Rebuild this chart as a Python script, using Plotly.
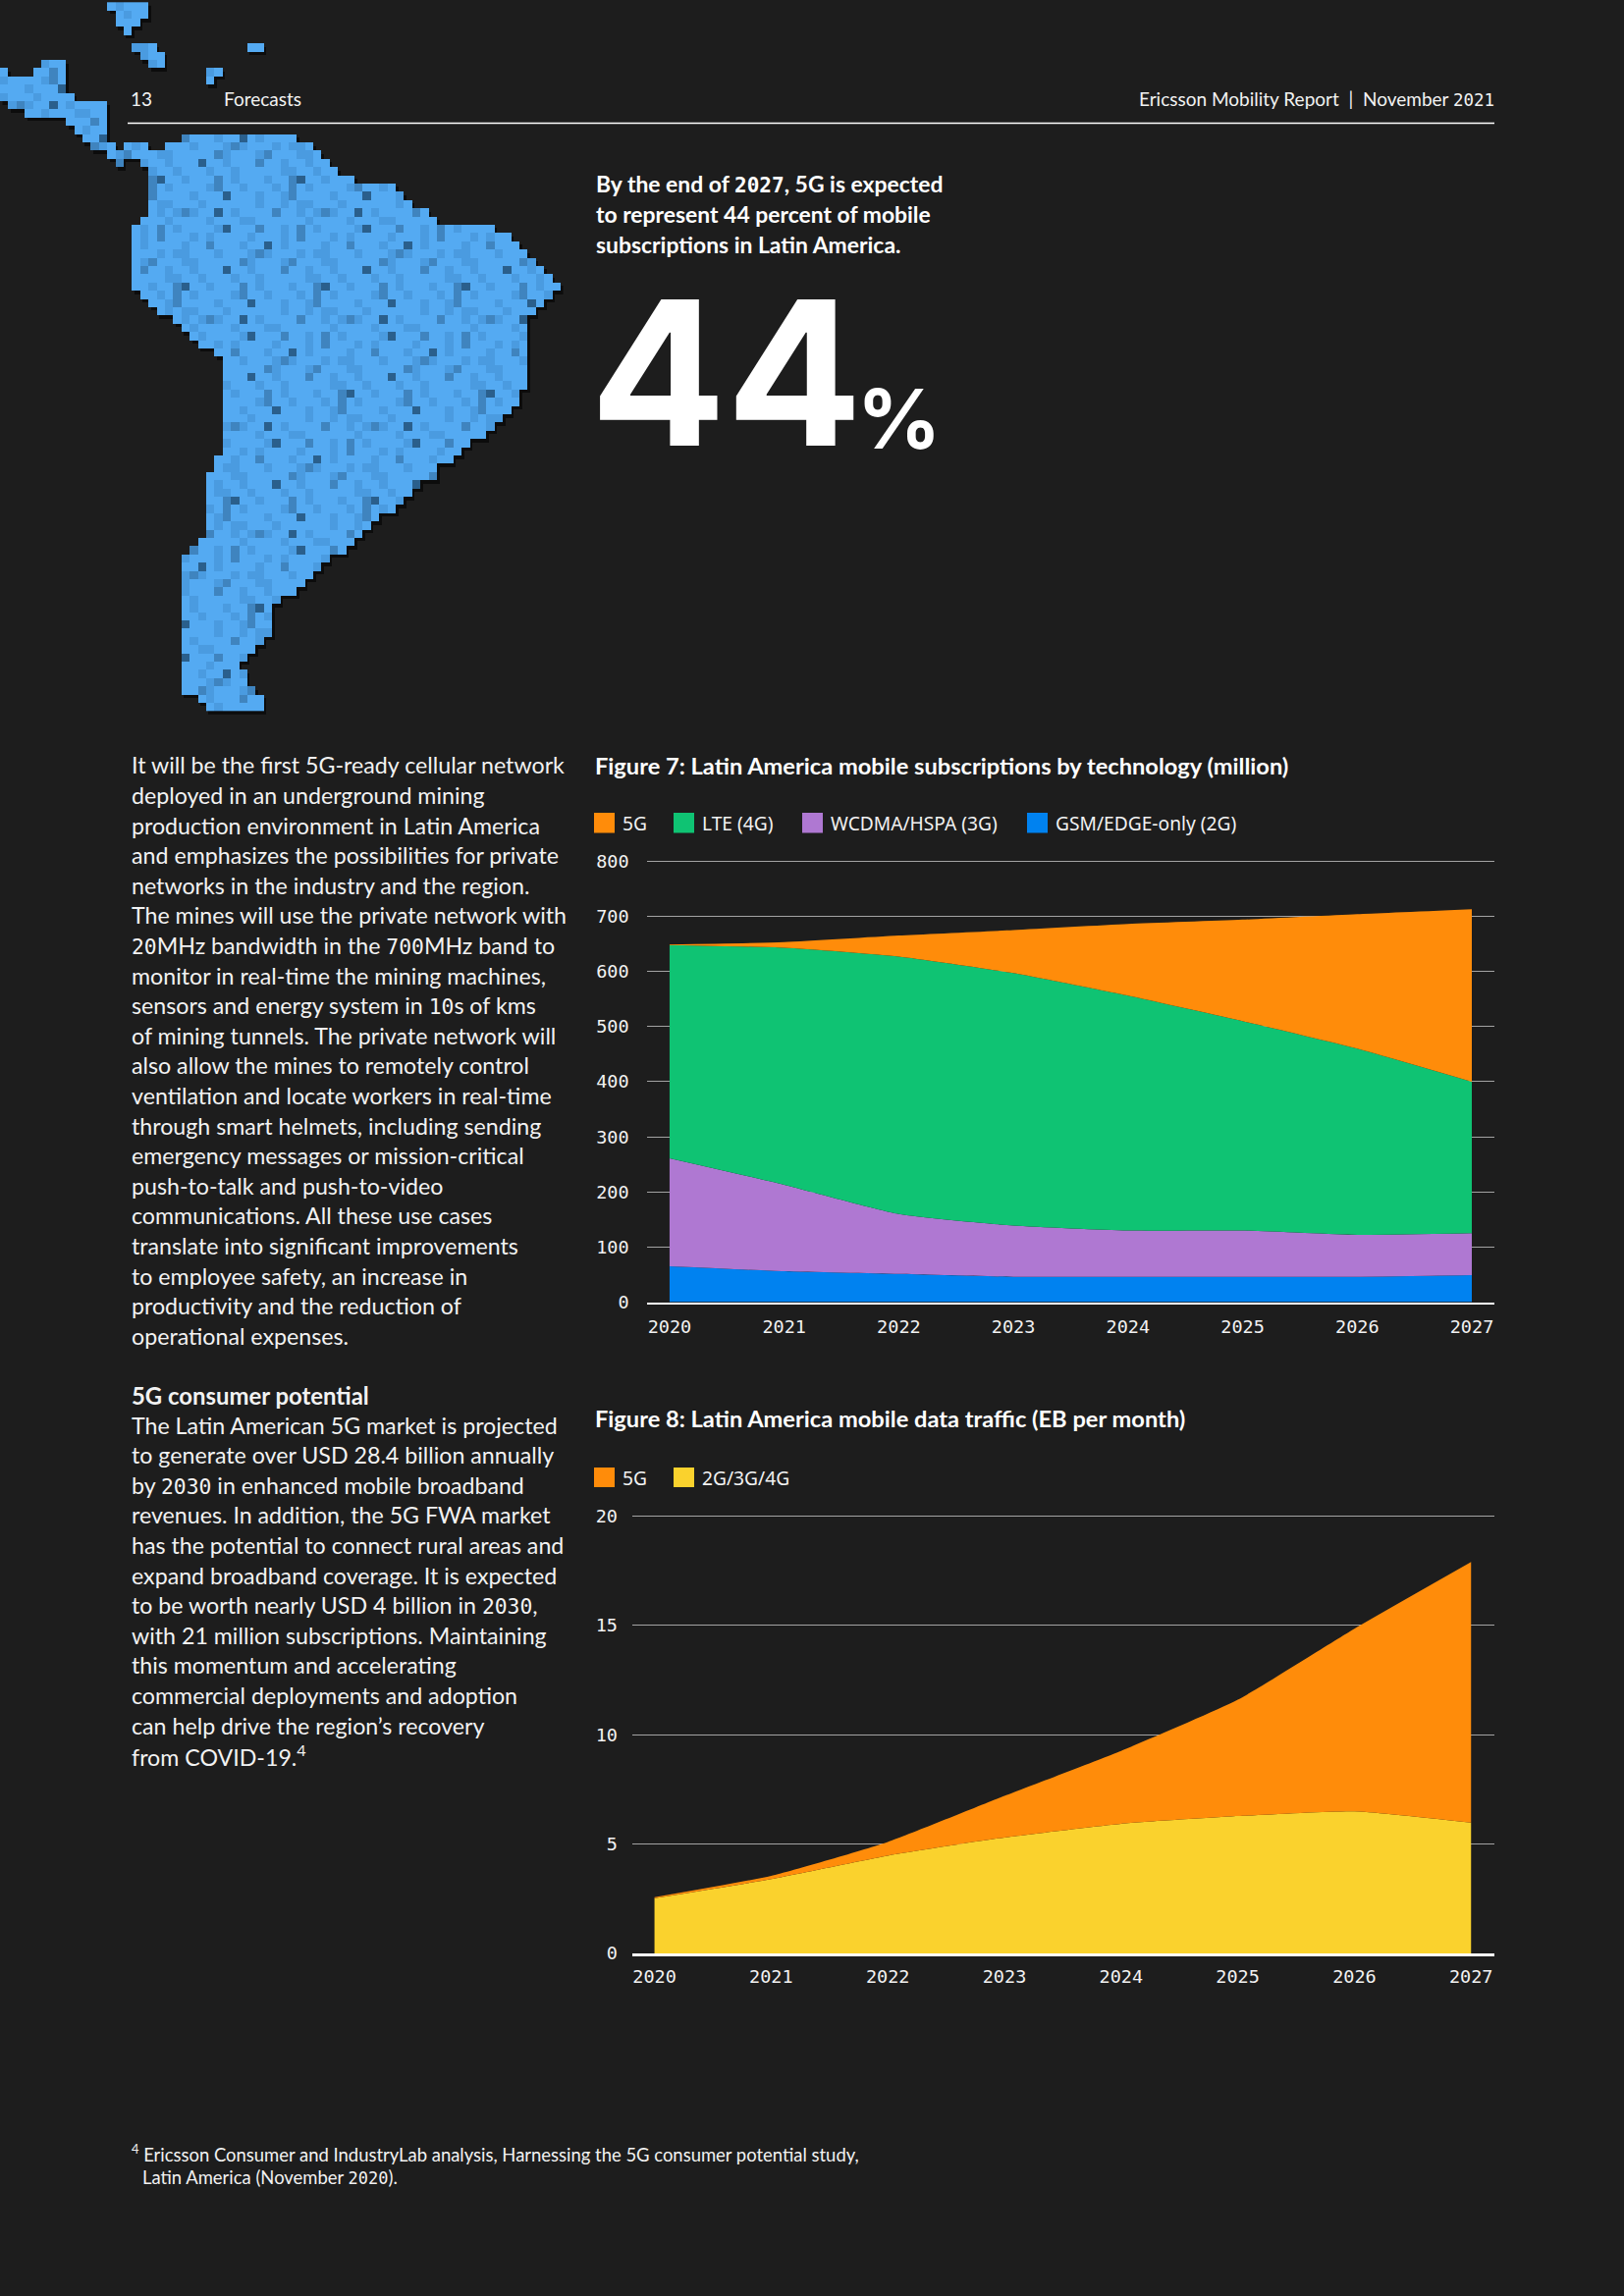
import re
import plotly.graph_objects as go

W, H = 1654, 2339
BG = "#1d1d1d"

# ---------- chart data ----------
YEARS = [2020, 2021, 2022, 2023, 2024, 2025, 2026, 2027]

FIG7_LABELS = ["5G", "LTE (4G)", "WCDMA/HSPA (3G)", "GSM/EDGE-only (2G)"]
FIG7_COLORS = ["#ff8c0a", "#0fc373", "#af78d2", "#0082f0"]
SUBS_5G = [1, 10, 38, 78, 130, 184, 244, 313]
SUBS_LTE = [387, 430, 467, 458, 426, 380, 338, 275]
SUBS_WCDMA = [196, 157, 109, 93, 84, 84, 76, 76]
SUBS_GSM = [65, 56, 51, 46, 46, 46, 46, 49]
FIG7_TICKS = [0, 100, 200, 300, 400, 500, 600, 700, 800]

FIG8_LABELS = ["5G", "2G/3G/4G"]
FIG8_COLORS = ["#ff8c0a", "#fad22d"]
TRAFFIC_5G = [0.05, 0.15, 0.63, 1.9, 3.33, 5.32, 8.35, 11.92]
TRAFFIC_OTHER = [2.52, 3.4, 4.47, 5.3, 5.93, 6.28, 6.5, 5.98]
FIG8_TICKS = [0, 5, 10, 15, 20]

# ---------- texts ----------
HEADLINE = ["By the end of 2027, 5G is expected",
            "to represent 44 percent of mobile",
            "subscriptions in Latin America."]
BODY_1 = ["It will be the first 5G-ready cellular network",
          "deployed in an underground mining",
          "production environment in Latin America",
          "and emphasizes the possibilities for private",
          "networks in the industry and the region.",
          "The mines will use the private network with",
          "20MHz bandwidth in the 700MHz band to",
          "monitor in real-time the mining machines,",
          "sensors and energy system in 10s of kms",
          "of mining tunnels. The private network will",
          "also allow the mines to remotely control",
          "ventilation and locate workers in real-time",
          "through smart helmets, including sending",
          "emergency messages or mission-critical",
          "push-to-talk and push-to-video",
          "communications. All these use cases",
          "translate into significant improvements",
          "to employee safety, an increase in",
          "productivity and the reduction of",
          "operational expenses."]
BODY_2_HEAD = "5G consumer potential"
BODY_2 = ["The Latin American 5G market is projected",
          "to generate over USD 28.4 billion annually",
          "by 2030 in enhanced mobile broadband",
          "revenues. In addition, the 5G FWA market",
          "has the potential to connect rural areas and",
          "expand broadband coverage. It is expected",
          "to be worth nearly USD 4 billion in 2030,",
          "with 21 million subscriptions. Maintaining",
          "this momentum and accelerating",
          "commercial deployments and adoption",
          "can help drive the region’s recovery",
          "from COVID-19.<sup>4</sup>"]
FOOTNOTE = ["<sup>4</sup> Ericsson Consumer and IndustryLab analysis, Harnessing the 5G consumer potential study,",
            "Latin America (November 2020)."]

# ---------- decorative pixel map: column runs per row ----------
SA_LEFT = [22, 20, 14, 17, 18, 18, 18, 18, 18, 18, 17, 16, 16, 16, 16, 16, 16, 16, 16, 17,
           18, 19, 21, 22, 23, 24, 26, 27, 27, 27, 27, 27, 27, 27, 27, 27, 27, 27, 27, 26,
           26, 25, 25, 25, 25, 25, 25, 25, 25, 24, 23, 22, 22, 22, 22, 22, 22, 22, 22, 22,
           22, 22, 22, 22, 22, 22, 22, 22, 24, 25]
SA_RIGHT = [35, 37, 38, 39, 40, 42, 47, 48, 49, 51, 52, 59, 61, 62, 63, 64, 65, 66, 67, 66,
            65, 64, 63, 63, 63, 63, 63, 63, 63, 63, 63, 62, 62, 61, 60, 59, 58, 56, 55, 54,
            52, 52, 50, 49, 48, 47, 45, 44, 43, 42, 41, 39, 38, 37, 36, 35, 33, 32, 32, 32,
            32, 31, 30, 29, 28, 29, 29, 30, 31, 31]
EXTRA_RUNS = [(-16, 13, 17), (-15, 14, 17), (-14, 14, 16), (-13, 15, 15),
              (-11, 16, 18), (-10, 17, 19), (-9, 18, 19), (-11, 30, 31),
              (-8, 25, 26), (-7, 25, 25),
              (-9, 5, 7), (-8, 0, 0), (-8, 4, 7), (-7, 0, 7), (-6, 0, 7), (-5, 0, 8),
              (-4, 1, 12), (-3, 3, 12), (-2, 8, 12), (-1, 9, 12), (0, 10, 12),
              (1, 11, 13), (1, 15, 17), (2, 13, 14), (3, 14, 14)]
SHADE_TILE = ["00100200010030100",
              "10001011000100012",
              "00210001200011000",
              "01000300100020010",
              "00011001000100100",
              "20100010023001000",
              "00001200100010201",
              "01200001000300010",
              "00010010110001000",
              "10030100002001012",
              "00100001000110000",
              "02001020100001300",
              "10000100010200010"]
CELL = 8.4
MAP_TOP = 136.7
ROW_MIN, ROW_MAX, COL_MAX = -16, 69, 67


def map_grid():
    rows = [[None] * (COL_MAX + 1) for _ in range(ROW_MIN, ROW_MAX + 1)]
    runs = [(i, a, b) for i, (a, b) in enumerate(zip(SA_LEFT, SA_RIGHT))] + EXTRA_RUNS
    for r, a, b in runs:
        tile = SHADE_TILE[r % len(SHADE_TILE)]
        for c in range(a, b + 1):
            rows[r - ROW_MIN][c] = int(tile[(c + 5 * r) % len(tile)])
    return rows


def mono_zero(s):
    return re.sub(r"\d*0\d*", lambda m: f'<span style="font-family:DejaVu Sans Mono;font-size:0.92em">{m.group(0)}</span>', s)


BODY_FONT = "Lato"
BOLD_FONT = "Lato"
MONO_FONT = "DejaVu Sans Mono"
LEGEND_FONT = "Noto Sans"
annotations, shapes = [], []


def text(x, y, s, size, font=BODY_FONT, anchor="left", color="#f2f2f2"):
    annotations.append(dict(x=x / W, y=1 - y / H, xref="paper", yref="paper", text=s, showarrow=False,
                            xanchor=anchor, yanchor="middle", align=anchor, borderpad=0,
                            font=dict(size=size, family=font, color=color)))


def rule(x0, x1, y, color="#ffffff", width=1.5):
    shapes.append(dict(type="line", xref="paper", yref="paper", x0=x0 / W, x1=x1 / W,
                       y0=1 - y / H, y1=1 - y / H, line=dict(color=color, width=width)))


def swatch(x0, x1, y0, y1, color):
    shapes.append(dict(type="rect", xref="paper", yref="paper", x0=x0 / W, x1=x1 / W,
                       y0=1 - y1 / H, y1=1 - y0 / H, fillcolor=color, line=dict(width=0)))


# header
text(132, 101, "13", 19)
text(227, 101, "Forecasts", 19)
text(1523, 101, mono_zero("Ericsson Mobility Report  |  November 2021"), 19, anchor="right")
rule(130, 1522, 125.5)

# call-out
for i, line in enumerate(HEADLINE):
    text(606, 187 + i * 31, "<b>" + mono_zero(line) + "</b>", 22.9, BOLD_FONT, color="#ffffff")
text(600, 379, "<b>44</b>", 205, "Inter", color="#ffffff")
text(872, 426, "<b>%</b>", 84, "Inter", color="#ffffff")

# body
for i, line in enumerate(BODY_1):
    text(133, 779.4 + i * 30.6, mono_zero(line), 23.2)
text(133, 1421, "<b>" + BODY_2_HEAD + "</b>", 23.9, BOLD_FONT)
for i, line in enumerate(BODY_2):
    text(133, 1451.6 + i * 30.6, mono_zero(line), 23.2)
text(133, 2193.6, FOOTNOTE[0], 18.45)
text(144, 2218, mono_zero(FOOTNOTE[1]), 18.45)

# figure titles and legends
text(605, 780, "<b>Figure 7: Latin America mobile subscriptions by technology (million)</b>", 23.65, BOLD_FONT, color="#ffffff")
text(605, 1445, "<b>Figure 8: Latin America mobile data traffic (EB per month)</b>", 23.65, BOLD_FONT, color="#ffffff")
LEG7_X = [605, 686, 817, 1046]
for x, label, color in zip(LEG7_X, FIG7_LABELS, FIG7_COLORS):
    swatch(x, x + 21, 828, 848.5, color)
    text(x + 28, 838, label, 19.2, LEGEND_FONT)
LEG8_X = [605, 686]
for x, label, color in zip(LEG8_X, FIG8_LABELS, FIG8_COLORS):
    swatch(x, x + 21, 1495, 1515, color)
    text(x + 28, 1505, label, 19.2, LEGEND_FONT)

fig = go.Figure()

# pixel map (shadow first, then blocks)
grid = map_grid()
shadow = [[None if v is None else 0 for v in row] for row in grid]
fig.add_trace(go.Heatmap(z=shadow, x0=CELL / 2 + 2.5, dx=CELL, y0=MAP_TOP + (ROW_MIN + 0.5) * CELL + 3.5, dy=CELL,
                         colorscale=[[0, "#0c0c0c"], [1, "#0c0c0c"]], showscale=False, hoverinfo="skip",
                         xaxis="x3", yaxis="y3"))
fig.add_trace(go.Heatmap(z=grid, x0=CELL / 2, dx=CELL, y0=MAP_TOP + (ROW_MIN + 0.5) * CELL, dy=CELL,
                         zmin=0, zmax=3,
                         colorscale=[[0, "#54aaf2"], [0.25, "#54aaf2"], [0.25, "#4a9be0"], [0.5, "#4a9be0"],
                                     [0.5, "#3f84bf"], [0.75, "#3f84bf"], [0.75, "#2a5f8c"], [1, "#2a5f8c"]],
                         showscale=False, hoverinfo="skip", xaxis="x3", yaxis="y3"))

# stacked areas, bottom series first
SERIES_7 = [SUBS_GSM, SUBS_WCDMA, SUBS_LTE, SUBS_5G]
for vals, label, color in zip(SERIES_7, FIG7_LABELS[::-1], FIG7_COLORS[::-1]):
    fig.add_trace(go.Scatter(x=YEARS, y=vals, name=label, stackgroup="a", mode="lines", fillcolor=color,
                             line=dict(width=0, shape="spline", smoothing=0.5, color=color), xaxis="x", yaxis="y"))
SERIES_8 = [TRAFFIC_OTHER, TRAFFIC_5G]
for vals, label, color in zip(SERIES_8, FIG8_LABELS[::-1], FIG8_COLORS[::-1]):
    fig.add_trace(go.Scatter(x=YEARS, y=vals, name=label, stackgroup="b", mode="lines", fillcolor=color,
                             line=dict(width=0, shape="spline", smoothing=0.5, color=color), xaxis="x2", yaxis="y2"))

tick_font = dict(family=MONO_FONT, size=18.5, color="#f2f2f2")
grid_color = "#a3a3a3"


def xaxis(domain, rng, anchor, linew, standoff):
    return dict(domain=[domain[0] / W, domain[1] / W], range=rng, anchor=anchor, tickmode="array",
                tickvals=YEARS, ticktext=[str(y) for y in YEARS], showgrid=False, zeroline=False,
                showline=True, linecolor="#ffffff", linewidth=linew, ticks="", tickfont=tick_font,
                ticklabelstandoff=standoff)


def yaxis(domain, rng, ticks, anchor, standoff):
    return dict(domain=[1 - domain[0] / H, 1 - domain[1] / H], range=rng, anchor=anchor, tickmode="array",
                tickvals=ticks, ticktext=[str(t) for t in ticks], showgrid=True, gridcolor=grid_color, gridwidth=1,
                zeroline=False, showline=False, ticks="", tickfont=tick_font, ticklabelstandoff=standoff)


fig.update_layout(
    width=W, height=H, margin=dict(l=0, r=0, t=0, b=0, pad=0, autoexpand=False), autosize=False,
    paper_bgcolor=BG, plot_bgcolor="rgba(0,0,0,0)", showlegend=False,
    annotations=annotations, shapes=shapes,
    xaxis=xaxis((658.6, 1522), [2019.8, 2027.197], "y", 1.5, 8),
    yaxis=yaxis((1326.5, 876.2), [0, 802], FIG7_TICKS, "x", 17),
    xaxis2=xaxis((644, 1522), [2019.81, 2027.2], "y2", 3, 5),
    yaxis2=yaxis((1990, 1542.2), [0, 20.1], FIG8_TICKS, "x2", 14),
    xaxis3=dict(domain=[0, 1], range=[0, W], visible=False, anchor="y3"),
    yaxis3=dict(domain=[0, 1], range=[H, 0], visible=False, anchor="x3"),
)

fig.write_html("out.html", config={"displayModeBar": False},
               post_script="document.body.style.margin='0';document.body.style.background='#1d1d1d';"
                           "document.documentElement.style.overflow='hidden';")
